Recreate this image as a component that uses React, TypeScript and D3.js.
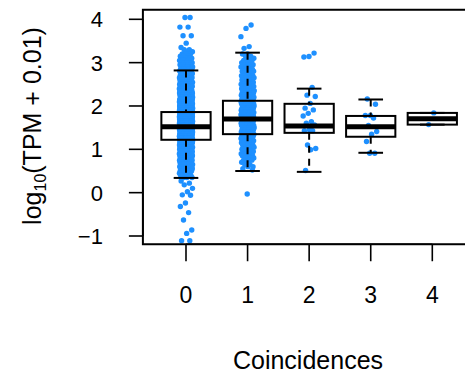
import React from "react";
import * as d3 from "d3";

// ---- data ----
const categories = ["0", "1", "2", "3", "4"];
const yTicks = [-1, 0, 1, 2, 3, 4];

// box statistics
const whiskerLow = [0.34, 0.5, 0.48, 0.92, 1.57];
const q1 = [1.22, 1.35, 1.38, 1.29, 1.57];
const medians = [1.52, 1.7, 1.54, 1.52, 1.705];
const q3 = [1.86, 2.12, 2.05, 1.77, 1.84];
const whiskerHigh = [2.82, 3.23, 2.4, 2.15, 1.84];

// group 0: dense part as value bins with counts, plus sparse points
const g0BinValues = [
  3.35, 3.3, 3.25, 3.2, 3.15, 3.1, 3.05, 3.0, 2.95, 2.9, 2.85, 2.8, 2.75, 2.7, 2.65, 2.6,
  2.55, 2.5, 2.45, 2.4, 2.35, 2.3, 2.25, 2.2, 2.15, 2.1, 2.05, 2.0, 1.95, 1.9, 1.85, 1.8,
  1.75, 1.7, 1.65, 1.6, 1.55, 1.5, 1.45, 1.4, 1.35, 1.3, 1.25, 1.2, 1.15, 1.1, 1.05, 1.0,
  0.95, 0.9, 0.85, 0.8, 0.75, 0.7, 0.65, 0.6, 0.55, 0.5, 0.45, 0.4, 0.35,
];
const g0BinCounts = [
  1, 2, 2, 3, 3, 4, 5, 6, 6, 7, 7, 8, 8, 9, 9, 10,
  10, 11, 11, 12, 13, 14, 15, 16, 17, 18, 19, 20, 21, 22, 23, 24,
  25, 26, 26, 27, 27, 27, 26, 25, 24, 23, 21, 20, 19, 17, 16, 15,
  14, 13, 12, 11, 10, 10, 9, 8, 7, 7, 6, 5, 4,
];
const g0Sparse = [4.04, 4.04, 3.82, 3.82, 3.62, 3.62, 3.45, 0.27, 0.22, 0.18, 0.1, 0.02, -0.05, -0.06, -0.24, -0.32, -0.46, -0.63, -0.86, -0.94, -1.11, -1.11];

// group 1
const g1BinValues = [
  3.2, 3.15, 3.1, 3.05, 3.0, 2.95, 2.9, 2.85, 2.8, 2.75, 2.7, 2.65, 2.6, 2.55, 2.5, 2.45,
  2.4, 2.35, 2.3, 2.25, 2.2, 2.15, 2.1, 2.05, 2.0, 1.95, 1.9, 1.85, 1.8, 1.75, 1.7, 1.65,
  1.6, 1.55, 1.5, 1.45, 1.4, 1.35, 1.3, 1.25, 1.2, 1.15, 1.1, 1.05, 1.0, 0.95, 0.9, 0.85,
  0.8, 0.75, 0.7, 0.65, 0.6, 0.55,
];
const g1BinCounts = [
  2, 2, 2, 3, 3, 3, 3, 4, 4, 4, 4, 5, 5, 5, 6, 6,
  6, 7, 7, 7, 8, 8, 8, 8, 9, 9, 9, 9, 9, 9, 9, 9,
  9, 9, 8, 8, 8, 7, 7, 6, 6, 5, 5, 5, 4, 4, 4, 3,
  3, 3, 2, 2, 2, 1,
];
const g1Sparse = [3.87, 3.79, 3.6, 3.37, 3.33, 0.52, -0.03];

const g2Values = [3.22, 3.14, 3.13, 2.43, 2.25, 2.22, 2.06, 1.95, 1.91, 1.83, 1.77, 1.64, 1.6, 1.56, 1.45, 1.43, 1.43, 1.1, 1.02, 0.99, 0.51];
const g3Values = [2.16, 2.04, 1.78, 1.78, 1.72, 1.55, 1.41, 1.35, 1.18, 0.91, 0.91];
const g4Values = [1.84, 1.57];

function expandBins(values: number[], counts: number[]): number[] {
  const out: number[] = [];
  values.forEach((v, i) => {
    for (let k = 0; k < counts[i]; k++) out.push(v);
  });
  return out;
}

const groupPoints: number[][] = [
  [...expandBins(g0BinValues, g0BinCounts), ...g0Sparse],
  [...expandBins(g1BinValues, g1BinCounts), ...g1Sparse],
  g2Values,
  g3Values,
  g4Values,
];

const W = 465;
const H = 374;
const FONT = "'Liberation Sans', Arial, Helvetica, sans-serif";
const BLUE = "#1E90FF";

export default function App() {
  const x = d3.scaleLinear().domain([1, 5]).range([186, 432.3]);
  const y = d3.scaleLinear().domain([-1, 4]).range([236, 19.3]);
  const xLim = [0.3, 5.7];
  const yLim = [-1.19, 4.22];
  const unit = x(2) - x(1);
  const boxHalf = unit * 0.4;
  const capHalf = boxHalf * 0.5;
  const jitterPx = unit * 0.108;

  const left = x(xLim[0]);
  const right = x(xLim[1]);
  const top = y(yLim[1]);
  const bottom = y(yLim[0]);

  const points: { cx: number; cy: number; key: string }[] = [];
  groupPoints.forEach((vals, g) => {
    vals.forEach((v, i) => {
      const frac = (i * 0.6180339887 + g * 0.37 + 0.13) % 1;
      points.push({ cx: x(g + 1) + (frac * 2 - 1) * jitterPx, cy: y(v), key: `${g}-${i}` });
    });
  });

  return (
    <svg width={W} height={H} style={{ position: "absolute", left: 0, top: 0, background: "#fff" }}>
      {/* points */}
      <g>
        {points.map((p) => (
          <circle key={p.key} cx={p.cx} cy={p.cy} r={2.7} fill={BLUE} />
        ))}
      </g>
      {/* boxes */}
      <g>
        {categories.map((c, i) => {
          const cx = x(i + 1);
          return (
            <g key={c}>
              <line x1={cx} x2={cx} y1={y(whiskerHigh[i])} y2={y(q3[i])} stroke="#000" strokeWidth={2} strokeDasharray="7,6" />
              <line x1={cx} x2={cx} y1={y(q1[i])} y2={y(whiskerLow[i])} stroke="#000" strokeWidth={2} strokeDasharray="7,6" />
              <line x1={cx - capHalf} x2={cx + capHalf} y1={y(whiskerHigh[i])} y2={y(whiskerHigh[i])} stroke="#000" strokeWidth={2} />
              <line x1={cx - capHalf} x2={cx + capHalf} y1={y(whiskerLow[i])} y2={y(whiskerLow[i])} stroke="#000" strokeWidth={2} />
              <rect x={cx - boxHalf} y={y(q3[i])} width={boxHalf * 2} height={y(q1[i]) - y(q3[i])} fill="none" stroke="#000" strokeWidth={2} />
              <line x1={cx - boxHalf} x2={cx + boxHalf} y1={y(medians[i])} y2={y(medians[i])} stroke="#000" strokeWidth={5} />
            </g>
          );
        })}
      </g>
      {/* frame */}
      <rect x={left} y={top} width={right - left} height={bottom - top} fill="none" stroke="#000" strokeWidth={2} />
      {/* y axis */}
      <g>
        <line x1={left} x2={left} y1={y(-1)} y2={y(4)} stroke="#000" strokeWidth={1.6} />
        {yTicks.map((t) => (
          <g key={t}>
            <line x1={left - 14} x2={left} y1={y(t)} y2={y(t)} stroke="#000" strokeWidth={1.6} />
            <text x={left - 40} y={y(t)} dy="0.36em" textAnchor="end" fontFamily={FONT} fontSize={22}>
              {t < 0 ? `\u2212${Math.abs(t)}` : `${t}`}
            </text>
          </g>
        ))}
      </g>
      {/* x axis */}
      <g>
        <line x1={x(1)} x2={x(5)} y1={bottom} y2={bottom} stroke="#000" strokeWidth={1.6} />
        {categories.map((c, i) => (
          <g key={c}>
            <line x1={x(i + 1)} x2={x(i + 1)} y1={bottom} y2={bottom + 17} stroke="#000" strokeWidth={1.6} />
            <text x={x(i + 1)} y={303} textAnchor="middle" fontFamily={FONT} fontSize={23}>
              {c}
            </text>
          </g>
        ))}
      </g>
      {/* axis titles */}
      <text x={308} y={369} textAnchor="middle" fontFamily={FONT} fontSize={25}>
        Coincidences
      </text>
      <text transform={`translate(41,126) rotate(-90)`} textAnchor="middle" fontFamily={FONT} fontSize={25}>
        log
        <tspan fontSize={16} dy={5}>10</tspan>
        <tspan dy={-5}>(TPM + 0.01)</tspan>
      </text>
    </svg>
  );
}
